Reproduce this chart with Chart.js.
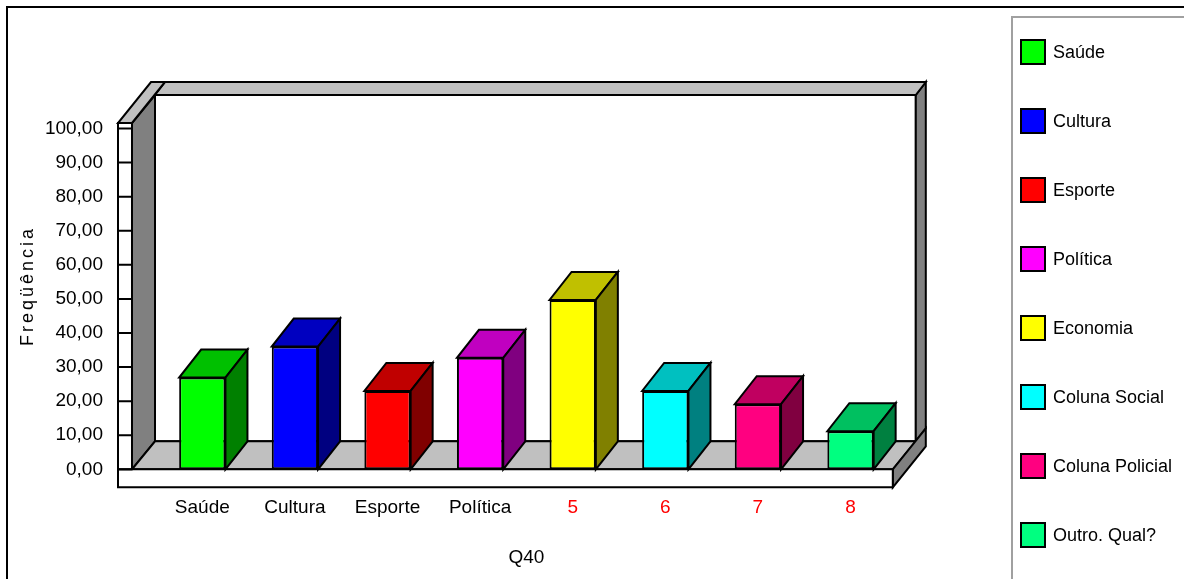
<!DOCTYPE html>
<html>
<head>
<meta charset="utf-8">
<title>Q40</title>
<script src="https://cdn.jsdelivr.net/npm/chart.js@4.4.1/dist/chart.umd.min.js"></script>
<style>
  html, body { margin: 0; padding: 0; background: #fff; }
  #wrap { position: relative; width: 1184px; height: 579px; }
</style>
</head>
<body>
<div id="wrap"><canvas id="chart" width="1184" height="579"></canvas></div>
<script>
// categories of Q40 and their frequencies
const categories = ['Saúde', 'Cultura', 'Esporte', 'Política', 'Economia', 'Coluna Social', 'Coluna Policial', 'Outro. Qual?'];
const tickLabels = ['Saúde', 'Cultura', 'Esporte', 'Política', '5', '6', '7', '8'];
const frequencies = [26.9, 36.0, 23.0, 32.7, 49.7, 23.0, 19.1, 11.2];

// face colours of each block: front, top, right side
const frontColors = ['#00ff00', '#0000ff', '#ff0000', '#ff00ff', '#ffff00', '#00ffff', '#ff0080', '#00ff80'];
const topColors = ['#00c000', '#0000c0', '#c00000', '#c000c0', '#c0c000', '#00c0c0', '#c00060', '#00c060'];
const sideColors = ['#008000', '#000080', '#800000', '#800080', '#808000', '#008080', '#800040', '#008040'];

const FONT = '"Liberation Sans", Arial, sans-serif';
Chart.defaults.font.family = FONT;

function poly(ctx, pts, fill) {
  ctx.beginPath();
  ctx.moveTo(pts[0][0], pts[0][1]);
  for (let i = 1; i < pts.length; i++) ctx.lineTo(pts[i][0], pts[i][1]);
  ctx.closePath();
  ctx.fillStyle = fill;
  ctx.fill();
  ctx.stroke();
}

// walls, floor and the extruded faces of the bars
const box3d = {
  id: 'box3d',
  beforeDatasetsDraw(chart) {
    const ctx = chart.ctx;
    const a = chart.chartArea;
    const y = chart.scales.y;
    const fl = a.left - 24, fr = a.right - 4;
    const top = a.top - 5.5, bot = a.bottom;
    const dx = 23, dy = -28, tx = 33, ty = -41;

    ctx.save();
    ctx.lineWidth = 2;
    ctx.strokeStyle = '#000';
    ctx.lineJoin = 'miter';

    poly(ctx, [[fl + dx, top + dy], [fr + dx, top + dy], [fr + dx, bot + dy], [fl + dx, bot + dy]], '#ffffff');
    poly(ctx, [[fr + dx, top + dy], [fr + tx, top + ty], [fr + tx, bot + ty], [fr + dx, bot + dy]], '#808080');
    poly(ctx, [[fl + dx, top + dy], [fr + dx, top + dy], [fr + tx, top + ty], [fl + tx, top + ty]], '#c0c0c0');
    poly(ctx, [[fl, top], [fl + dx, top + dy], [fl + dx, bot + dy], [fl, bot]], '#808080');
    poly(ctx, [[fl - 14, top], [fl, top], [fl + tx, top + ty], [fl - 14 + tx, top + ty]], '#c0c0c0');
    poly(ctx, [[fl, bot], [fr, bot], [fr + dx, bot + dy], [fl + dx, bot + dy]], '#c0c0c0');
    poly(ctx, [[fr, bot], [fr + tx, bot + ty], [fr + tx, bot + ty + 18], [fr, bot + 18]], '#808080');
    poly(ctx, [[fl - 14, bot], [fr, bot], [fr, bot + 18], [fl - 14, bot + 18]], '#ffffff');
    poly(ctx, [[fl - 14, top], [fl, top], [fl, bot], [fl - 14, bot]], '#ffffff');

    // tick marks across the front of the axis wall
    ctx.beginPath();
    y.ticks.forEach(t => {
      const py = y.getPixelForValue(t.value);
      ctx.moveTo(fl - 14, py);
      ctx.lineTo(fl, py);
    });
    ctx.stroke();
    ctx.restore();
  },
  afterDatasetsDraw(chart) {
    const ctx = chart.ctx;
    const meta = chart.getDatasetMeta(0);
    ctx.save();
    ctx.lineWidth = 2;
    ctx.strokeStyle = '#000';
    meta.data.forEach((bar, i) => {
      const p = bar.getProps(['x', 'y', 'base', 'width'], true);
      const l = p.x - p.width / 2, r = p.x + p.width / 2;
      poly(ctx, [[l, p.y], [r, p.y], [r + 22, p.y - 28], [l + 22, p.y - 28]], topColors[i]);
      poly(ctx, [[r, p.y], [r + 22, p.y - 28], [r + 22, p.base - 28], [r, p.base]], sideColors[i]);
    });
    ctx.restore();
  },
  afterDraw(chart) {
    const ctx = chart.ctx;
    ctx.save();

    // outer frame
    ctx.strokeStyle = '#000';
    ctx.lineWidth = 2;
    ctx.beginPath();
    ctx.moveTo(7, 579);
    ctx.lineTo(7, 7);
    ctx.lineTo(1184, 7);
    ctx.stroke();

    // legend panel
    ctx.strokeStyle = '#a0a0a0';
    ctx.lineWidth = 2;
    ctx.beginPath();
    ctx.moveTo(1012, 579);
    ctx.lineTo(1012, 17);
    ctx.lineTo(1184, 17);
    ctx.stroke();

    ctx.font = '18px ' + FONT;
    ctx.textBaseline = 'middle';
    ctx.textAlign = 'left';
    ctx.lineWidth = 2;
    ctx.strokeStyle = '#000';
    categories.forEach((name, i) => {
      const cy = 52 + i * 69;
      ctx.fillStyle = frontColors[i];
      ctx.fillRect(1021, cy - 12, 24, 24);
      ctx.strokeRect(1021, cy - 12, 24, 24);
      ctx.fillStyle = '#000';
      ctx.fillText(name, 1053, cy + 1);
    });

    // vertical axis title
    ctx.translate(28, 286);
    ctx.rotate(-Math.PI / 2);
    ctx.letterSpacing = '3px';
    ctx.textAlign = 'center';
    ctx.font = '18px ' + FONT;
    ctx.fillText('Freqüência', 0, 0);
    ctx.restore();
  }
};

const ctx = document.getElementById('chart').getContext('2d');
const chart = new Chart(ctx, {
  type: 'bar',
  data: {
    labels: tickLabels,
    datasets: [{
      data: frequencies,
      backgroundColor: frontColors,
      borderColor: '#000',
      borderWidth: 2,
      borderSkipped: false,
      categoryPercentage: 1,
      barPercentage: 0.5
    }]
  },
  options: {
    responsive: false,
    animation: false,
    layout: { padding: { top: 128.5, right: 287.2, bottom: 0, left: 0 } },
    plugins: { legend: { display: false }, tooltip: { enabled: false } },
    scales: {
      x: {
        grid: { display: false, drawTicks: false },
        border: { display: false },
        ticks: {
          autoSkip: false,
          maxRotation: 0,
          padding: 27,
          font: { size: 19 },
          color: c => c.index >= 4 ? '#ff0000' : '#000000'
        },
        title: { display: true, text: 'Q40', color: '#000', font: { size: 19 }, padding: { top: 0, bottom: 10 } },
        afterFit: s => { s.height = 109.7; }
      },
      y: {
        min: 0,
        max: 100,
        grid: { display: false, drawTicks: false },
        border: { display: false },
        ticks: {
          stepSize: 10,
          padding: 53,
          font: { size: 19 },
          color: '#000',
          callback: v => v.toFixed(2).replace('.', ',')
        },
        afterFit: s => { s.width = 156; }
      }
    }
  },
  plugins: [box3d]
});
</script>
</body>
</html>
